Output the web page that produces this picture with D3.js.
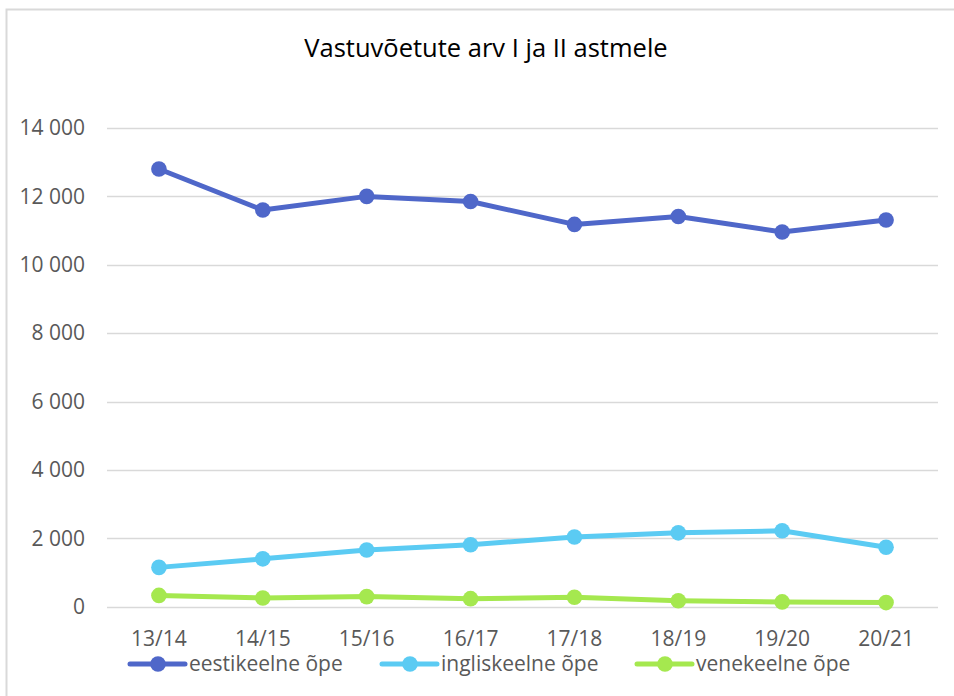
<!DOCTYPE html>
<html>
<head>
<meta charset="utf-8">
<script src="https://cdn.jsdelivr.net/npm/d3@7"></script>
<style>
  body { margin: 0; background: #fff; }
  svg { display: block; font-family: "Open Sans", "Noto Sans", sans-serif; }
</style>
</head>
<body>
<svg id="chart" width="954" height="696"></svg>
<script>
// andmed
const years = ["13/14", "14/15", "15/16", "16/17", "17/18", "18/19", "19/20", "20/21"];
const eesti = [12800, 11600, 12000, 11850, 11180, 11410, 10960, 11310];
const inglise = [1150, 1400, 1660, 1810, 2040, 2160, 2220, 1740];
const vene = [330, 255, 295, 235, 275, 175, 140, 120];
const seriesNames = ["eestikeelne õpe", "ingliskeelne õpe", "venekeelne õpe"];
const colors = ["#4f67c9", "#5bcbf3", "#a5e84f"];
const yTicks = [0, 2000, 4000, 6000, 8000, 10000, 12000, 14000];

const series = [eesti, inglise, vene];

const svg = d3.select("#chart");

// raam
svg.append("path")
    .attr("d", "M6.5,696 V9.5 H954")
    .attr("fill", "none")
    .attr("stroke", "#d9d9d9")
    .attr("stroke-width", 2);

svg.append("text")
    .attr("x", 486)
    .attr("y", 57)
    .attr("text-anchor", "middle")
    .attr("font-size", 25.5)
    .attr("fill", "#000")
    .text("Vastuvõetute arv I ja II astmele");

const x = d3.scaleBand().domain(years).range([107, 938]);
const y = d3.scaleLinear().domain([0, 14000]).range([606.7, 128]);

const fmt = v => d3.format(",")(v).replace(/,/g, " ");

// ruudustik
svg.append("g")
    .selectAll("line")
    .data(yTicks)
    .join("line")
    .attr("x1", 107)
    .attr("x2", 938)
    .attr("y1", d => Math.round(y(d)) + 0.5)
    .attr("y2", d => Math.round(y(d)) + 0.5)
    .attr("stroke", "#d9d9d9")
    .attr("stroke-width", 1.5);

// y telg
const yAxis = svg.append("g")
    .attr("transform", "translate(85,0)")
    .call(d3.axisLeft(y).tickValues(yTicks).tickFormat(fmt).tickSize(0).tickPadding(0));
yAxis.select(".domain").remove();
yAxis.selectAll("text")
    .attr("font-size", 21)
    .attr("fill", "#595959")
    .attr("font-family", "'Open Sans', sans-serif");

// x telg
const xAxis = svg.append("g")
    .attr("transform", "translate(0,646)")
    .call(d3.axisBottom(x).tickSize(0).tickPadding(0));
xAxis.select(".domain").remove();
xAxis.selectAll("text")
    .attr("y", 0)
    .attr("dy", 0)
    .attr("font-size", 21)
    .attr("fill", "#595959")
    .attr("font-family", "'Open Sans', sans-serif");

const line = d3.line()
    .x((d, i) => x(years[i]) + x.bandwidth() / 2)
    .y(d => y(d));

series.forEach((vals, si) => {
    svg.append("path")
        .datum(vals)
        .attr("d", line)
        .attr("fill", "none")
        .attr("stroke", colors[si])
        .attr("stroke-width", 5)
        .attr("stroke-linejoin", "round")
        .attr("stroke-linecap", "round");
    svg.append("g")
        .selectAll("circle")
        .data(vals)
        .join("circle")
        .attr("cx", (d, i) => x(years[i]) + x.bandwidth() / 2)
        .attr("cy", d => y(d))
        .attr("r", 7.8)
        .attr("fill", colors[si]);
});

// legend
const legendX = [130, 382, 637];
const legend = svg.append("g");
seriesNames.forEach((name, si) => {
    const g = legend.append("g").attr("transform", `translate(${legendX[si]},664)`);
    g.append("line")
        .attr("x1", 0).attr("x2", 55)
        .attr("stroke", colors[si])
        .attr("stroke-width", 5)
        .attr("stroke-linecap", "round");
    g.append("circle")
        .attr("cx", 28).attr("r", 7.8)
        .attr("fill", colors[si]);
    g.append("text")
        .attr("x", 59)
        .attr("dy", "0.35em")
        .attr("font-size", 21)
        .attr("fill", "#595959")
        .text(name);
});
</script>
</body>
</html>
